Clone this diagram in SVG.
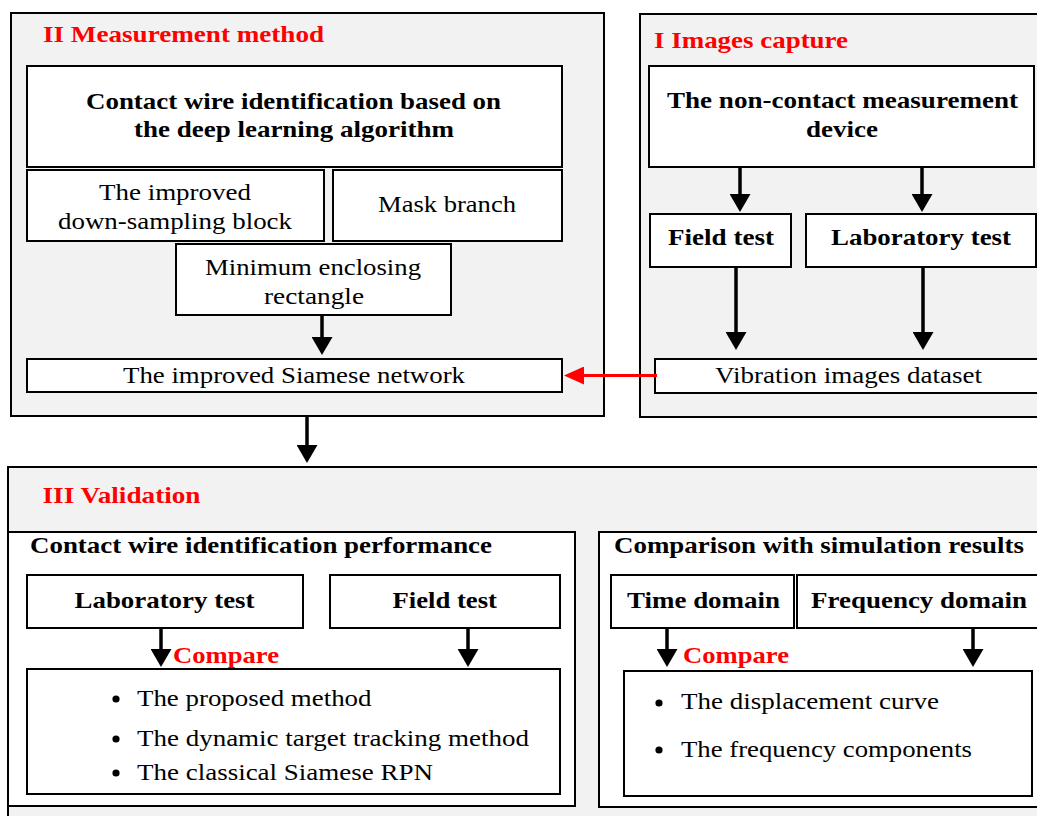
<svg xmlns="http://www.w3.org/2000/svg" width="1037" height="816" viewBox="0 0 1037 816">
<style>
.panel{fill:#f2f2f2;stroke:#000;stroke-width:2}
.box{fill:#fff;stroke:#000;stroke-width:2}
text{font-family:"Liberation Serif","Times New Roman",serif;font-size:24px;fill:#000}
.b{font-weight:bold}
.red{fill:#ff0000;font-weight:bold}
.arr{stroke:#000;stroke-width:3.5;fill:none}
.rarr{stroke:#ff0000;stroke-width:3;fill:none}
</style>
<defs>
<marker id="ah" markerUnits="userSpaceOnUse" markerWidth="18" markerHeight="21" viewBox="0 0 18 21" refX="1" refY="10.5" orient="auto">
<path d="M0,0 L18,10.5 L0,21 z" fill="#000"/>
</marker>
<marker id="rah" markerUnits="userSpaceOnUse" markerWidth="20" markerHeight="18" viewBox="0 0 20 18" refX="1" refY="9" orient="auto">
<path d="M0,0 L20,9 L0,18 z" fill="#ff0000"/>
</marker>
</defs>
<rect width="1037" height="816" fill="#fff"/>

<g id="panel-measurement">
<rect class="panel" x="11" y="13" width="593" height="403"/>
<text class="red" x="43" y="42" textLength="281" lengthAdjust="spacingAndGlyphs">II Measurement method</text>
</g>
<g id="node-contact-wire">
<rect class="box" x="27" y="66" width="535" height="101"/>
<text class="b" x="86" y="109" textLength="415" lengthAdjust="spacingAndGlyphs">Contact wire identification based on</text>
<text class="b" x="134" y="137" textLength="320" lengthAdjust="spacingAndGlyphs">the deep learning algorithm</text>
</g>
<g id="node-downsampling">
<rect class="box" x="27" y="170" width="297" height="71"/>
<text x="99" y="200" textLength="152" lengthAdjust="spacingAndGlyphs">The improved</text>
<text x="58" y="229" textLength="234" lengthAdjust="spacingAndGlyphs">down-sampling block</text>
</g>
<g id="node-mask">
<rect class="box" x="333" y="170" width="229" height="71"/>
<text x="378" y="212" textLength="138" lengthAdjust="spacingAndGlyphs">Mask branch</text>
</g>
<g id="node-min-rect">
<rect class="box" x="176" y="244" width="275" height="71"/>
<text x="205" y="275" textLength="216" lengthAdjust="spacingAndGlyphs">Minimum enclosing</text>
<text x="264" y="304" textLength="100" lengthAdjust="spacingAndGlyphs">rectangle</text>
</g>
<g id="node-siamese">
<rect class="box" x="27" y="359" width="535" height="33"/>
<text x="123" y="383" textLength="342" lengthAdjust="spacingAndGlyphs">The improved Siamese network</text>
</g>

<g id="panel-capture">
<rect class="panel" x="640" y="14" width="410" height="403"/>
<text class="red" x="654" y="47.5" textLength="194" lengthAdjust="spacingAndGlyphs">I Images capture</text>
</g>
<g id="node-device">
<rect class="box" x="649" y="66" width="385" height="101"/>
<text class="b" x="667" y="108" textLength="351" lengthAdjust="spacingAndGlyphs">The non-contact measurement</text>
<text class="b" x="806" y="136.5" textLength="72" lengthAdjust="spacingAndGlyphs">device</text>
</g>
<g id="node-field-test-1">
<rect class="box" x="650" y="214" width="141" height="53"/>
<text class="b" x="668" y="245" textLength="106" lengthAdjust="spacingAndGlyphs">Field test</text>
</g>
<g id="node-lab-test-1">
<rect class="box" x="806" y="214" width="230" height="53"/>
<text class="b" x="831" y="245" textLength="180" lengthAdjust="spacingAndGlyphs">Laboratory test</text>
</g>
<g id="node-dataset">
<rect class="box" x="655" y="359" width="395" height="34"/>
<text x="715" y="382.5" textLength="267" lengthAdjust="spacingAndGlyphs">Vibration images dataset</text>
</g>

<g id="panel-validation">
<rect class="panel" x="8" y="467" width="1042" height="360"/>
<text class="red" x="42.5" y="502.7" textLength="158" lengthAdjust="spacingAndGlyphs">III Validation</text>
</g>
<g id="group-identification">
<rect class="box" x="8" y="532" width="567" height="274"/>
<text class="b" x="30" y="553" textLength="462" lengthAdjust="spacingAndGlyphs">Contact wire identification performance</text>
</g>
<g id="node-lab-test-2">
<rect class="box" x="27" y="575" width="276" height="53"/>
<text class="b" x="74.5" y="608" textLength="180" lengthAdjust="spacingAndGlyphs">Laboratory test</text>
</g>
<g id="node-field-test-2">
<rect class="box" x="330" y="575" width="230" height="53"/>
<text class="b" x="392.5" y="608" textLength="104.5" lengthAdjust="spacingAndGlyphs">Field test</text>
</g>
<g id="node-methods">
<rect class="box" x="27" y="669" width="533" height="125"/>
<circle cx="116" cy="699" r="3.6"/>
<circle cx="116" cy="739" r="3.6"/>
<circle cx="116" cy="773" r="3.6"/>
<text x="137" y="706" textLength="234.5" lengthAdjust="spacingAndGlyphs">The proposed method</text>
<text x="137" y="746" textLength="392" lengthAdjust="spacingAndGlyphs">The dynamic target tracking method</text>
<text x="137" y="780" textLength="296" lengthAdjust="spacingAndGlyphs">The classical Siamese RPN</text>
</g>
<g id="group-simulation">
<rect class="box" x="599" y="532" width="451" height="275"/>
<text class="b" x="614" y="553" textLength="410" lengthAdjust="spacingAndGlyphs">Comparison with simulation results</text>
</g>
<g id="node-time">
<rect class="box" x="611" y="575" width="183" height="53"/>
<text class="b" x="627" y="608" textLength="153" lengthAdjust="spacingAndGlyphs">Time domain</text>
</g>
<g id="node-frequency">
<rect class="box" x="797" y="575" width="253" height="53"/>
<text class="b" x="811" y="608" textLength="216" lengthAdjust="spacingAndGlyphs">Frequency domain</text>
</g>
<g id="node-results">
<rect class="box" x="624" y="671" width="408" height="125"/>
<circle cx="659" cy="703" r="3.6"/>
<circle cx="659" cy="750" r="3.6"/>
<text x="681" y="709" textLength="258" lengthAdjust="spacingAndGlyphs">The displacement curve</text>
<text x="681" y="757" textLength="291" lengthAdjust="spacingAndGlyphs">The frequency components</text>
</g>

<g id="connectors">
<line class="arr" x1="322" y1="315" x2="322" y2="338" marker-end="url(#ah)"/>
<line class="arr" x1="740" y1="167" x2="740" y2="195" marker-end="url(#ah)"/>
<line class="arr" x1="922" y1="167" x2="922" y2="195" marker-end="url(#ah)"/>
<line class="arr" x1="736" y1="267" x2="736" y2="333" marker-end="url(#ah)"/>
<line class="arr" x1="923" y1="267" x2="923" y2="333" marker-end="url(#ah)"/>
<line class="rarr" x1="657" y1="375.5" x2="583" y2="375.5" marker-end="url(#rah)"/>
<line class="arr" x1="307" y1="416" x2="307" y2="446" marker-end="url(#ah)"/>
<line class="arr" x1="161" y1="628" x2="161" y2="650" marker-end="url(#ah)"/>
<line class="arr" x1="468" y1="628" x2="468" y2="650" marker-end="url(#ah)"/>
<line class="arr" x1="667" y1="628" x2="667" y2="650" marker-end="url(#ah)"/>
<line class="arr" x1="973" y1="628" x2="973" y2="650" marker-end="url(#ah)"/>
<text class="red" x="173" y="663" textLength="106" lengthAdjust="spacingAndGlyphs">Compare</text>
<text class="red" x="683" y="663" textLength="106" lengthAdjust="spacingAndGlyphs">Compare</text>
</g>
</svg>
